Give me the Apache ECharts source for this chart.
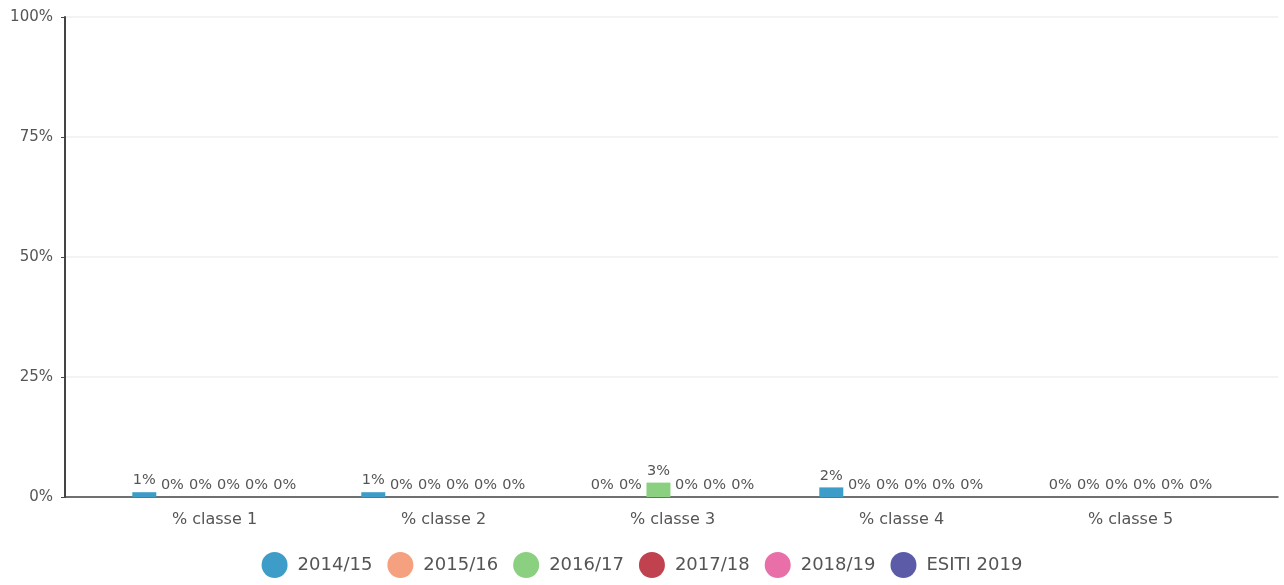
<!DOCTYPE html>
<html>
<head>
<meta charset="utf-8">
<script src="https://cdn.jsdelivr.net/npm/echarts@6/dist/echarts.min.js"></script>
<style>
  html, body { margin: 0; padding: 0; background: #fff; }
  #chart { width: 1284px; height: 585px; }
</style>
</head>
<body>
<div id="chart"></div>
<script>
var categories = ['% classe 1', '% classe 2', '% classe 3', '% classe 4', '% classe 5'];
var seriesNames = ['2014/15', '2015/16', '2016/17', '2017/18', '2018/19', 'ESITI 2019'];
var values2014 = [1, 1, 0, 2, 0];
var values2015 = [0, 0, 0, 0, 0];
var values2016 = [0, 0, 3, 0, 0];
var values2017 = [0, 0, 0, 0, 0];
var values2018 = [0, 0, 0, 0, 0];
var valuesEsiti = [0, 0, 0, 0, 0];
var yTicks = [0, 25, 50, 75, 100];

var Color = ['#3e9dc8', '#f5a07f', '#8bcf80', '#c0424e', '#e86fa7', '#5b5ba8'];
var allValues = [values2014, values2015, values2016, values2017, values2018, valuesEsiti];
var FONT = 'DejaVu Sans';

var chart = echarts.init(document.getElementById('chart'));

var series = seriesNames.map(function (name, i) {
	return {
		name: name,
		type: 'bar',
		xAxisIndex: 0,
		yAxisIndex: 0,
		barWidth: 24,
		barGap: '17%',
		itemStyle: { color: Color[i] },
		label: {
			show: true,
			position: 'top',
			distance: 4,
			formatter: '{c}%',
			color: '#555',
			fontSize: 14.5,
			fontFamily: FONT
		},
		data: allValues[i]
	};
});

var option = {
	backgroundColor: '#fff',
	animation: false,
	color: Color,
	textStyle: { fontFamily: FONT },
	legend: {
		bottom: 2,
		left: 'center',
		icon: 'circle',
		itemWidth: 26,
		itemHeight: 26,
		itemGap: 15,
		textStyle: { color: '#555', fontSize: 18, fontFamily: FONT, padding: [0, 0, 0, 5] },
		data: seriesNames
	},
	grid: [
		{ left: 100, right: 39, top: 17, bottom: 88 },
		{ left: 65, right: 6, top: 17, bottom: 88 }
	],
	xAxis: [
		{
			type: 'category',
			gridIndex: 0,
			data: categories,
			axisLine: { show: false },
			axisTick: { show: false },
			axisLabel: { color: '#555', fontSize: 16, margin: 15, fontFamily: FONT }
		},
		{
			type: 'value',
			gridIndex: 1,
			min: 0,
			max: 1,
			axisLine: { show: true, lineStyle: { color: '#444', width: 1.5 } },
			axisTick: { show: false },
			axisLabel: { show: false },
			splitLine: { show: false }
		}
	],
	yAxis: [
		{
			type: 'value',
			gridIndex: 0,
			min: 0,
			max: 100,
			interval: 25,
			offset: 35,
			axisLine: { show: true, lineStyle: { color: '#444', width: 2 } },
			axisTick: { show: true, length: 4, lineStyle: { color: '#444' } },
			axisLabel: {
				color: '#555',
				fontSize: 15,
				margin: 12,
				fontFamily: FONT,
				formatter: function (v) { return yTicks.indexOf(v) >= 0 ? v + '%' : ''; }
			},
			splitLine: { show: false }
		},
		{
			type: 'value',
			gridIndex: 1,
			min: 0,
			max: 100,
			interval: 25,
			axisLine: { show: false },
			axisTick: { show: false },
			axisLabel: { show: false },
			splitLine: { show: true, lineStyle: { color: '#eef1f1', width: 1.5 } }
		}
	],
	series: series
};

chart.setOption(option);
</script>
</body>
</html>
